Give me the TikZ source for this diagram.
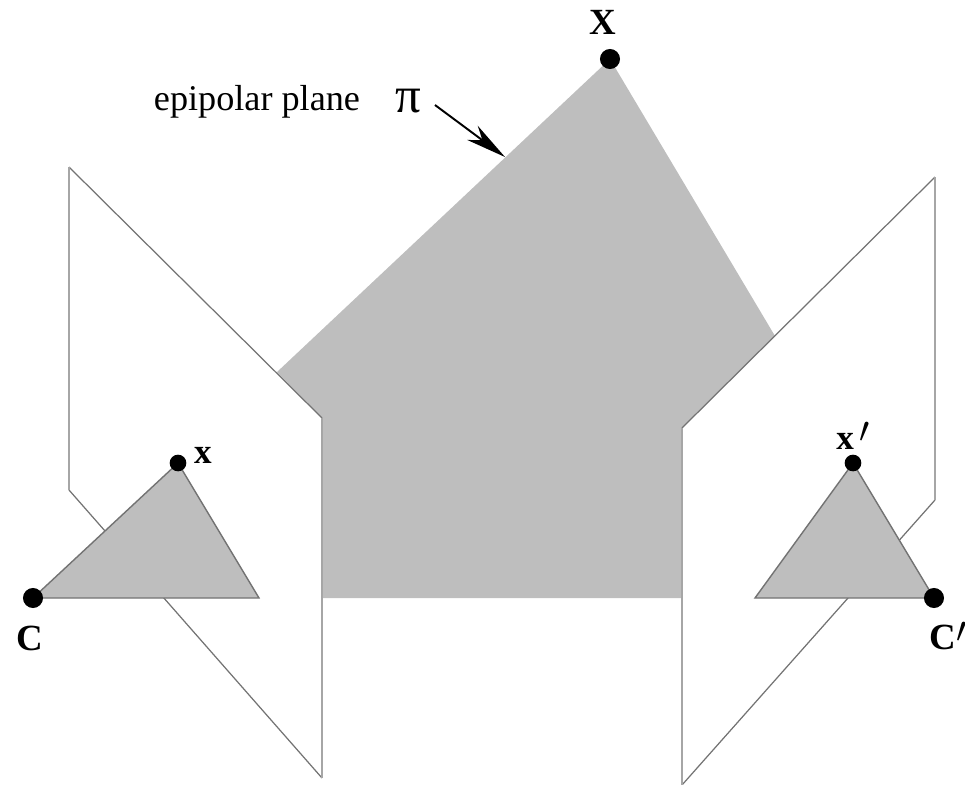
\documentclass[tikz,border=0pt]{standalone}
\usepackage{fontspec}
\setmainfont{Liberation Serif}
\usetikzlibrary{arrows.meta}
\definecolor{planegray}{HTML}{BEBEBE}
\tikzset{
  slant/.style={draw=black!55, line width=0.7pt},
  upright/.style={draw=black!35, line width=1pt},
  ray/.style={draw=black!55, line width=0.8pt, fill=planegray},
  dot/.style={circle, fill=black, inner sep=0pt, minimum size=#1},
  bigtext/.style={font=\fontsize{21}{24}\selectfont\bfseries, inner sep=0pt},
  smalltext/.style={font=\fontsize{20}{22}\selectfont\bfseries, inner sep=0pt},
}
\begin{document}
\begin{tikzpicture}[x=0.02cm, y=-0.02cm]
    \useasboundingbox (0,0) rectangle (965,785);
    % epipolar plane
    \fill[planegray] (610,59) -- (775,336) -- (682,428) -- (682,598)
        -- (322,598) -- (322,418) -- (277,372) -- cycle;
    \node[dot=11.4pt] (X) at (610,59) {};
    \node[bigtext] (Xlabel) at (603,22) {X};
    \node[font=\fontsize{20.6}{24}\selectfont, inner sep=0pt] (planelabel) at (257,102) {epipolar plane};
    \node[font=\fontsize{29}{32}\selectfont, inner sep=0pt] (pilabel) at (408,101) {π};
    \coordinate (arrowstart) at (435,105);
    \coordinate (arrowend) at (505,157);
    \draw[-{Stealth[length=23pt, width=10pt, inset=7pt]}, line width=1.1pt] (arrowstart) -- (arrowend);
    % left camera
    \begin{scope}
        \fill[white] (69,167) -- (322,418) -- (322,778) -- (69,490) -- cycle;
        \draw[slant] (69,167) -- (322,418);
        \draw[slant] (322,778) -- (69,490);
        \draw[upright] (322,418) -- (322,778);
        \draw[upright] (69,490) -- (69,167);
        \coordinate (Lc) at (33,598);
        \coordinate (Lx) at (178,463);
        \coordinate (Lb) at (259,598);
        \draw[ray] (Lc) -- (Lx) -- (Lb) -- cycle;
        \node[dot=11.4pt] (C) at (Lc) {};
        \node[dot=9.5pt] (x) at (Lx) {};
        \node[bigtext] (Clabel) at (30,638) {C};
        \node[smalltext] (xlabel) at (203,455) {x};
    \end{scope}
    % right camera
    \begin{scope}
        \fill[white] (935,177) -- (682,428) -- (682,785) -- (935,500) -- cycle;
        \draw[slant] (935,177) -- (682,428);
        \draw[slant] (682,785) -- (935,500);
        \draw[upright] (682,428) -- (682,785);
        \draw[upright] (935,500) -- (935,177);
        \coordinate (Rc) at (934,598);
        \coordinate (Rx) at (853,463);
        \coordinate (Rb) at (755,598);
        \draw[ray] (Rc) -- (Rx) -- (Rb) -- cycle;
        \node[dot=11.4pt] (Cp) at (Rc) {};
        \node[dot=9.5pt] (xp) at (Rx) {};
        \node[bigtext, anchor=west] (Cplabel) at (929,636) {C\raisebox{4pt}{$\prime$}};
        \node[smalltext, anchor=west] (xplabel) at (836,436) {x\raisebox{4pt}{$\,\prime$}};
    \end{scope}
\end{tikzpicture}
\end{document}
